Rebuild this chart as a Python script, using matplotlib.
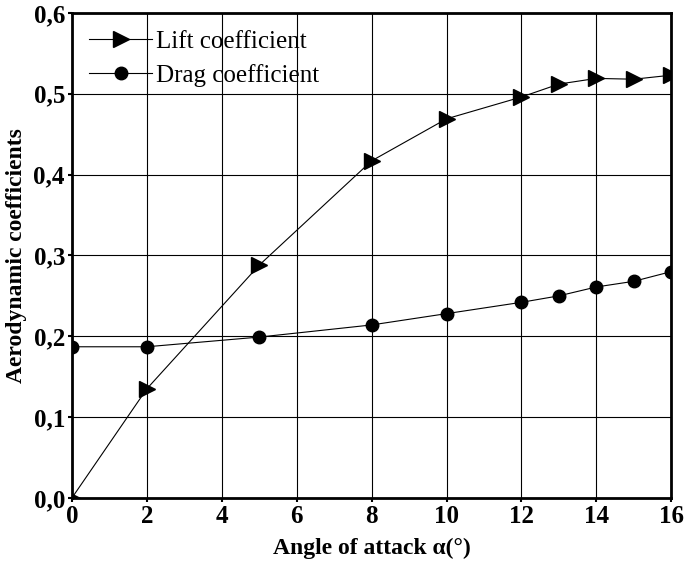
import matplotlib.pyplot as plt

alpha = [0, 2, 5, 8, 10, 12, 13, 14, 15, 16]
lift = [0.0, 0.135, 0.288, 0.417, 0.469, 0.496, 0.512, 0.519, 0.518, 0.523]
drag = [0.187, 0.187, 0.199, 0.214, 0.228, 0.242, 0.250, 0.261, 0.268, 0.280]

xticks = [0, 2, 4, 6, 8, 10, 12, 14, 16]
yticks = [0.0, 0.1, 0.2, 0.3, 0.4, 0.5, 0.6]
ytick_labels = ["0,0", "0,1", "0,2", "0,3", "0,4", "0,5", "0,6"]

plt.rcParams["font.family"] = "Liberation Serif"

fig = plt.figure(figsize=(6.85, 5.62), dpi=100)
ax = fig.add_axes([0.105, 0.114, 0.875, 0.863])

ax.plot(alpha, lift, color="black", lw=0.8, marker=">", ms=11,
        label="Lift coefficient", zorder=3)
ax.plot(alpha, drag, color="black", lw=0.8, marker="o", ms=9,
        label="Drag coefficient", zorder=3)

ax.set_xlim(0, 16)
ax.set_ylim(0, 0.6)
ax.set_xticks(xticks)
ax.set_xticklabels([str(t) for t in xticks])
ax.set_yticks(yticks)
ax.set_yticklabels(ytick_labels)
ax.grid(True, color="black", lw=0.8)
ax.set_axisbelow(True)

for s in ax.spines.values():
    s.set_linewidth(2)
ax.tick_params(direction="out", length=3, width=1.5, labelsize=18, pad=2)
for lbl in ax.get_xticklabels() + ax.get_yticklabels():
    lbl.set_fontweight("bold")

ax.set_xlabel("Angle of attack α(°)", fontsize=17, fontweight="bold", labelpad=7)
ax.set_ylabel("Aerodynamic coefficients", fontsize=17, fontweight="bold", labelpad=5)

ax.legend(loc="upper left", frameon=False, fontsize=18, handlelength=2.5,
          handletextpad=0.15, borderaxespad=0.6, borderpad=0.1,
          labelspacing=0.45)

fig.savefig("out.png", dpi=100)
